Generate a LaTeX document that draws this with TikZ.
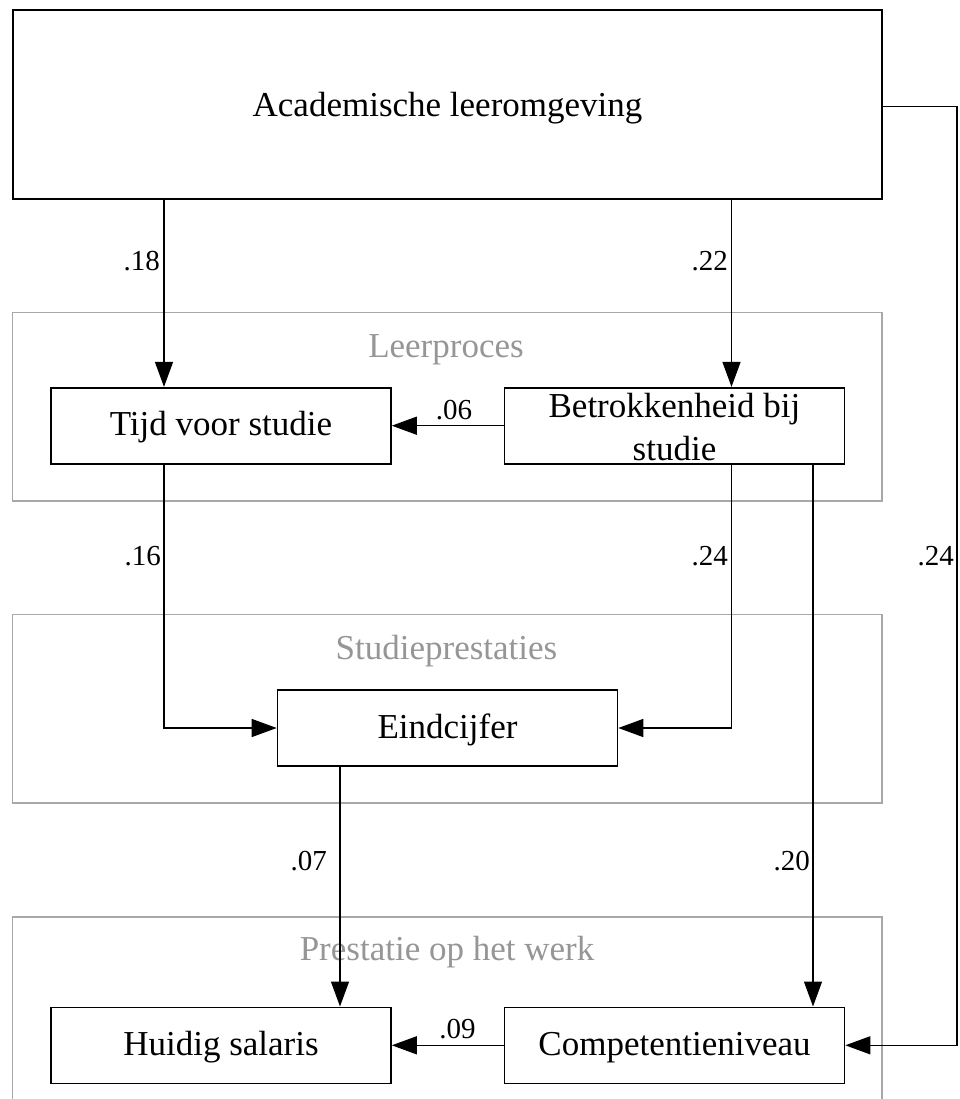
\documentclass[tikz,border=0pt]{standalone}
\usepackage{fontspec}
\setmainfont{Liberation Serif}
\usetikzlibrary{arrows.meta}
\definecolor{grpline}{RGB}{168,168,168}
\definecolor{grptext}{RGB}{150,150,150}
\begin{document}
\begin{tikzpicture}[x=1pt,y=-1pt,
  box/.style={draw=black,line width=1.6pt,rectangle,inner sep=0pt,
    minimum width=340pt,minimum height=76pt,align=center,
    font=\fontsize{35}{43}\selectfont},
  onerow/.style={box,text height=24pt,text depth=4pt},
  grp/.style={draw=grpline,line width=1.6pt},
  grptitle/.style={text=grptext,anchor=base,inner sep=0pt,
    font=\fontsize{35}{43}\selectfont},
  arr/.style={line width=1.3pt,-{Triangle[length=25pt,width=18pt]}},
  coef/.style={inner sep=0pt,font=\fontsize{29}{34}\selectfont}]
\useasboundingbox (0,0) rectangle (959,1099);

% group frames
\draw[grp] (12.5,312.5) rectangle (882,501);
\draw[grp] (12.5,614.5) rectangle (882,803);
\draw[grp] (12.5,1110) -- (12.5,917) -- (882,917) -- (882,1110);
\node[grptitle] (tLeer) at (446,357) {Leerproces};
\node[grptitle] (tStud) at (446.5,659) {Studieprestaties};
\node[grptitle] (tWerk) at (447,960) {Prestatie op het werk};

% variables
\node[box,minimum width=869.5pt,minimum height=189pt,text height=25pt,text depth=0pt] (acad) at (447.5,104.5) {Academische leeromgeving};
\node[onerow] (tijd) at (221,425.7) {Tijd voor studie};
\node[box] (betr) at (674.5,425.7) {\rule{0pt}{26pt}Betrokkenheid bij\\studie};
\node[onerow] (eind) at (447.5,728) {Eindcijfer};
\node[onerow] (sal) at (221,1045.3) {Huidig salaris};
\node[onerow] (comp) at (674.5,1045.3) {Competentieniveau};

% routing helpers
\coordinate (xA) at (164,0);
\coordinate (xB) at (731.5,0);
\coordinate (xC) at (813,0);
\coordinate (xD) at (340,0);
\coordinate (rTop) at (957,106.7);
\coordinate (rBot) at (957,1045.3);

% paths
\draw[arr] (acad.south -| xA) -- (tijd.north -| xA);
\draw[arr] (acad.south -| xB) -- (betr.north -| xB);
\draw[arr] (betr.west) -- (tijd.east);
\draw[arr] (tijd.south -| xA) |- (eind.west);
\draw[arr] (betr.south -| xB) |- (eind.east);
\draw[arr] (betr.south -| xC) -- (comp.north -| xC);
\draw[arr] (eind.south -| xD) -- (sal.north -| xD);
\draw[arr] (comp.west) -- (sal.east);
\draw[arr] (acad.east |- rTop) -- (rTop) -- (rBot) -- (comp.east);

% path coefficients
\node[coef,anchor=base east] (c18) at (160,270.7) {.18};
\node[coef,anchor=base east] (c22) at (728,270.7) {.22};
\node[coef,anchor=base] (c06) at (454,419.3) {.06};
\node[coef,anchor=base east] (c16) at (161,565) {.16};
\node[coef,anchor=base east] (c24a) at (728,565) {.24};
\node[coef,anchor=base east] (c24b) at (954,565) {.24};
\node[coef,anchor=base east] (c07) at (327,870.7) {.07};
\node[coef,anchor=base east] (c20) at (810,870.7) {.20};
\node[coef,anchor=base] (c09) at (457.5,1038.3) {.09};
\end{tikzpicture}
\end{document}
